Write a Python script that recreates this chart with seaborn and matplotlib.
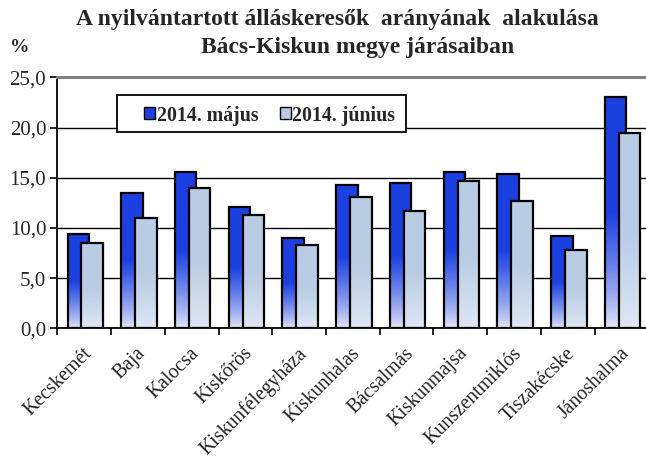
import numpy as np
import pandas as pd
import matplotlib
matplotlib.use('Agg')
import matplotlib.pyplot as plt
import matplotlib.colors as mcolors
import matplotlib.transforms as mtransforms
from matplotlib.patches import Patch, Rectangle
from matplotlib.ticker import FuncFormatter, MultipleLocator
import seaborn as sns

# data
districts = ['Kecskemét', 'Baja', 'Kalocsa', 'Kiskőrös', 'Kiskunfélegyháza',
             'Kiskunhalas', 'Bácsalmás', 'Kiskunmajsa', 'Kunszentmiklós',
             'Tiszakécske', 'Jánoshalma']
may_2014 = [9.4, 13.5, 15.6, 12.1, 9.0, 14.3, 14.5, 15.6, 15.4, 9.2, 23.0]
june_2014 = [8.5, 11.0, 14.0, 11.3, 8.3, 13.1, 11.7, 14.7, 12.7, 7.8, 19.5]
series = ['2014. május', '2014. június']

df = pd.DataFrame({
    'district': districts * 2,
    'value': may_2014 + june_2014,
    'period': [series[0]] * len(districts) + [series[1]] * len(districts),
})

sns.set_style('white')
plt.rcParams['font.family'] = ['Liberation Serif', 'DejaVu Serif']

fig = plt.figure(figsize=(6.46, 4.59), dpi=100)
W, H = 646, 459
ax = fig.add_axes([57.3 / W, (H - 328.3) / H, (648.4 - 57.3) / W, (328.3 - 77.3) / H])

sns.barplot(data=df, x='district', y='value', hue='period', hue_order=series,
            order=districts, width=0.8, legend=False, ax=ax)

# (top colour, bottom colour) of each series gradient
grad = {0: ('#1b40e0', '#e2e7f9'), 1: ('#b8cce4', '#e2e8f4')}
shift = {0: 0.09, 1: -0.05}
n = 64
t = np.linspace(0, 1, n)  # 0 bottom, 1 top
for k, cont in enumerate(ax.containers):
    top = np.array(mcolors.to_rgba(grad[k][0]))
    bot = np.array(mcolors.to_rgba(grad[k][1]))
    f = np.clip(t / 0.5, 0, 1) ** 0.8
    img = (bot[None, :] * (1 - f[:, None]) + top[None, :] * f[:, None])[:, None, :]
    for p in cont.patches:
        p.set_x(p.get_x() + shift[k])
        x0, w, h = p.get_x(), p.get_width(), p.get_height()
        ax.imshow(img, extent=[x0, x0 + w, 0, h], origin='lower',
                  aspect='auto', zorder=2 + 2 * k, interpolation='bilinear')
        p.set_facecolor('none')
        p.set_edgecolor('black')
        p.set_linewidth(1.6)
        p.set_zorder(2.5 + 2 * k)

ax.set_xlim(-0.5, len(districts) - 0.5)
ax.set_ylim(0, 25)
ax.set_xlabel('')
ax.set_ylabel('')

# axes styling
ax.set_axisbelow(True)
ax.yaxis.set_major_locator(MultipleLocator(5))
ax.yaxis.set_major_formatter(FuncFormatter(lambda v, pos: f'{v:.1f}'.replace('.', ',')))
ax.grid(axis='y', color='black', linewidth=1.0, zorder=0)
ax.grid(axis='x', visible=False)
for s in ['left', 'bottom']:
    ax.spines[s].set_color('black')
    ax.spines[s].set_linewidth(1.3)
ax.spines['top'].set_color('#808080')
ax.spines['top'].set_linewidth(2.2)
ax.spines['right'].set_visible(False)
ax.spines['bottom'].set_zorder(10)

ax.tick_params(axis='y', which='major', left=True, length=5, width=1.2,
               direction='out', color='black', labelsize=15, pad=3)
ax.set_xticks(np.arange(len(districts)))
ax.set_xticks(np.arange(len(districts) + 1) - 0.5, minor=True)
ax.tick_params(axis='x', which='major', length=0, labelsize=14.2, pad=4)
ax.tick_params(axis='x', which='minor', bottom=True, length=5, width=1.2,
               direction='out', color='black')
ax.set_xticklabels(districts, rotation=45, ha='right', va='top',
                   rotation_mode='anchor')
offset = mtransforms.ScaledTranslation(-2 / 100, -10 / 100, fig.dpi_scale_trans)
for lab in ax.get_xticklabels():
    lab.set_transform(lab.get_transform() + offset)

# legend: frame drawn separately (wider padding on the left, like the original)
fig.patches.append(Rectangle((117.3 / W, (H - 132.3) / H), (406 - 117.3) / W,
                             (132.3 - 94.7) / H, transform=fig.transFigure,
                             facecolor='white', edgecolor='black',
                             linewidth=1.3, zorder=5))
handles = [Patch(facecolor=grad[0][0], edgecolor='black', linewidth=1.0),
           Patch(facecolor=grad[1][0], edgecolor='black', linewidth=1.0)]
leg = fig.legend(handles, series, loc='center left',
                 bbox_to_anchor=(144 / W, (H - 115.5) / H), ncol=2,
                 frameon=False, prop={'weight': 'bold', 'size': 14.3},
                 handlelength=0.55, handleheight=0.55, handletextpad=0.08,
                 columnspacing=1.1, borderpad=0, borderaxespad=0)
leg.set_zorder(6)

# titles
fig.text(337 / W, 1 - 20 / H, 'A nyilvántartott álláskeresők  arányának  alakulása',
         ha='center', va='center', fontsize=17, fontweight='bold')
fig.text(358 / W, 1 - 47 / H, 'Bács-Kiskun megye járásaiban',
         ha='center', va='center', fontsize=17, fontweight='bold')
fig.text(20 / W, 1 - 48 / H, '%', ha='center', va='center',
         fontsize=14, fontweight='bold')

fig.savefig('out.png', dpi=100)
